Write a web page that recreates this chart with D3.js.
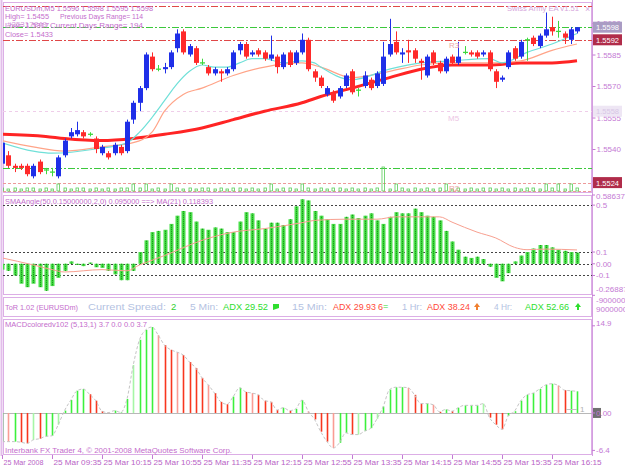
<!DOCTYPE html>
<html><head><meta charset="utf-8">
<script src="https://cdn.jsdelivr.net/npm/d3@7/dist/d3.min.js"></script>
<style>
html,body{margin:0;padding:0;background:#fff;}
svg{display:block;font-family:"Liberation Sans",Arial,sans-serif;}
</style></head><body>
<svg id="chart" width="625" height="469"></svg>
<script>
// ---------------- DATA ----------------
const tickBars = [0,8,16,24,32,40,48,56,64,72,80,88];
const tickLabels = ["25 Mar 2008","25 Mar 09:35","25 Mar 10:15","25 Mar 10:55","25 Mar 11:35","25 Mar 12:15","25 Mar 12:55","25 Mar 13:35","25 Mar 14:15","25 Mar 14:55","25 Mar 15:35","25 Mar 16:15"];

const open = [1.5533,1.5537,1.5532,1.5532,1.5532,1.5527,1.5534,1.5530,1.5529,1.5527,
 1.5537,1.5546,1.5547,1.5548,1.5547,1.5545,1.5538,1.5538,1.5538,1.5541,
 1.5539,1.5554,1.5562,1.5569,1.5584,1.5578,1.5578,1.5579,1.5588,1.5596,
 1.5585,1.5588,1.5581,1.5579,1.5576,1.5577,1.5576,1.5578,1.5587,1.5590,
 1.5585,1.5587,1.5586,1.5583,1.5584,1.5579,1.5586,1.5581,1.5586,1.5592,
 1.5577,1.5574,1.5566,1.5567,1.5565,1.5570,1.5577,1.5568,1.5570,1.5573,
 1.5570,1.5571,1.5585,1.5591,1.5585,1.5587,1.5587,1.5582,1.5575,1.5586,
 1.5581,1.5577,1.5584,1.5581,1.5586,1.5586,1.5586,1.5585,1.5586,1.5577,
 1.5573,1.5579,1.5588,1.5584,1.5592,1.5593,1.5589,1.5594,1.5598,1.5596,
 1.5595,1.5592,1.5596];
const high = [1.5545,1.5539,1.5533,1.5533,1.5533,1.5533,1.5535,1.5531,1.5531,1.5537,
 1.5545,1.5550,1.5553,1.5549,1.5548,1.5546,1.5542,1.5539,1.5543,1.5542,
 1.5554,1.5563,1.5570,1.5586,1.5586,1.5580,1.5581,1.5587,1.5597,1.5597,
 1.5590,1.5589,1.5583,1.5580,1.5579,1.5578,1.5579,1.5587,1.5591,1.5591,
 1.5587,1.5588,1.5587,1.5594,1.5585,1.5586,1.5587,1.5587,1.5595,1.5593,
 1.5578,1.5575,1.5570,1.5568,1.5570,1.5576,1.5578,1.5569,1.5577,1.5574,
 1.5577,1.5591,1.5602,1.5596,1.5588,1.5592,1.5588,1.5583,1.5585,1.5587,
 1.5582,1.5584,1.5585,1.5591,1.5589,1.5587,1.5587,1.5587,1.5587,1.5578,
 1.5575,1.5587,1.5589,1.5592,1.5593,1.5594,1.5595,1.5605,1.5603,1.5601,
 1.5596,1.5598,1.5598];
const low = [1.5532,1.5531,1.5529,1.5530,1.5527,1.5526,1.5528,1.5528,1.5527,1.5526,
 1.5536,1.5545,1.5546,1.5545,1.5546,1.5538,1.5537,1.5535,1.5537,1.5537,
 1.5538,1.5552,1.5558,1.5568,1.5577,1.5577,1.5576,1.5578,1.5586,1.5585,
 1.5584,1.5580,1.5580,1.5575,1.5575,1.5572,1.5575,1.5577,1.5585,1.5583,
 1.5584,1.5584,1.5582,1.5582,1.5576,1.5578,1.5579,1.5580,1.5585,1.5577,
 1.5572,1.5569,1.5565,1.5562,1.5564,1.5569,1.5566,1.5565,1.5569,1.5568,
 1.5569,1.5570,1.5584,1.5585,1.5581,1.5581,1.5581,1.5573,1.5574,1.5580,
 1.5576,1.5576,1.5580,1.5580,1.5585,1.5584,1.5583,1.5584,1.5577,1.5569,
 1.5572,1.5578,1.5582,1.5583,1.5582,1.5589,1.5588,1.5593,1.5594,1.5593,
 1.5590,1.5590,1.5595];
const close = [1.5543,1.5532,1.5531,1.5531,1.5528,1.5532,1.5529,1.5530,1.5529,1.5536,
 1.5544,1.5548,1.5549,1.5546,1.5547,1.5540,1.5541,1.5536,1.5542,1.5538,
 1.5553,1.5562,1.5569,1.5585,1.5578,1.5578,1.5579,1.5586,1.5595,1.5586,
 1.5589,1.5581,1.5581,1.5576,1.5578,1.5576,1.5578,1.5586,1.5590,1.5584,
 1.5586,1.5585,1.5583,1.5585,1.5579,1.5585,1.5580,1.5586,1.5592,1.5578,
 1.5574,1.5570,1.5569,1.5563,1.5569,1.5575,1.5567,1.5568,1.5575,1.5569,
 1.5576,1.5584,1.5590,1.5586,1.5586,1.5586,1.5583,1.5581,1.5584,1.5581,
 1.5577,1.5583,1.5581,1.5584,1.5586,1.5585,1.5584,1.5586,1.5578,1.5572,
 1.5574,1.5586,1.5583,1.5591,1.5592,1.5590,1.5594,1.5597,1.5596,1.5596,
 1.5593,1.5597,1.5598];

// small strip of tick-volume marks at the bottom of the price window
const volMarks = [3,2,3,2,3,3,2,3,2,7,3,2,3,3,2,3,2,3,2,3,3,7,3,7,2,3,2,7,3,2,
 3,2,3,3,2,3,2,3,3,2,3,2,3,7,2,3,3,2,7,3,2,3,2,3,3,2,3,2,3,2,3,24,2,7,3,2,
 3,2,3,2,3,7,2,3,2,3,2,3,3,2,3,2,3,2,3,3,2,7,3,7,2,7,3];

// moving averages (bar index, value)
const maFastBars = [0,5,8,15,20,22,24,26,28,30,32,34,36,38,40,42,45,48,50,51,56,62,67,72,78,80,84,88,92];
const maFast = [1.5543,1.5539,1.5538,1.5540,1.5543,1.5548,1.5555,1.5563,1.5571,1.5577,1.5580,1.5579,1.5579,1.5581,1.5583,1.5583,1.5581,1.5582,1.5581,1.5579,1.5573,1.5578,1.5581,1.5582,1.5583,1.5581,1.5586,1.5590,1.5595];
const maMidBars = [0,5,10,16,21,24,26,29,32,37,42,48,51,56,62,67,72,78,83,88,92];
const maMid = [1.5544,1.5541,1.5539,1.5541,1.5543,1.5548,1.5558,1.5566,1.5569,1.5575,1.5579,1.5581,1.5579,1.5574,1.5577,1.5580,1.5581,1.5581,1.5582,1.5587,1.5590];
const maSlowBars = [0,7,10,16,21,26,32,37,42,48,51,56,62,67,72,78,83,88,92];
const maSlow = [1.5547,1.5546,1.5545,1.5544,1.5545,1.5547,1.5550,1.5554,1.5558,1.5562,1.5565,1.5569,1.5574,1.5578,1.5580,1.5580,1.5581,1.5581,1.5582];

const priceTicks = [1.5600,1.5585,1.5570,1.5555,1.5540,1.5525];
const levelValues = [1.5608,1.5598,1.5592,1.5558,1.5531,1.5524,1.5520];

// SMAAngle histogram and its MA(21)
const smaAngle = [-0.05,-0.06,-0.10,-0.17,-0.20,-0.17,-0.20,-0.23,-0.19,-0.12,
 -0.06,0.02,-0.01,-0.02,0.01,-0.03,-0.035,-0.06,-0.09,-0.14,
 -0.14,-0.06,0.10,0.20,0.27,0.28,0.29,0.34,0.41,0.45,
 0.44,0.36,0.30,0.29,0.31,0.30,0.27,0.27,0.36,0.44,
 0.43,0.37,0.30,0.35,0.35,0.33,0.38,0.49,0.55,0.54,
 0.45,0.41,0.38,0.34,0.34,0.40,0.42,0.39,0.41,0.43,
 0.37,0.34,0.40,0.44,0.43,0.43,0.47,0.44,0.41,0.40,
 0.37,0.28,0.19,0.12,0.06,0.05,0.06,0.04,-0.025,-0.12,
 -0.15,-0.08,0.02,0.07,0.10,0.13,0.16,0.16,0.14,0.12,
 0.11,0.10,0.095];
const angleMaBars = [0,5,8,10,16,20,22,24,26,32,37,42,48,50,55,60,63,70,72,76,79,82,84,87,92];
const angleMa = [0.05,-0.01,-0.05,-0.07,-0.05,-0.06,-0.01,0.03,0.07,0.20,0.27,0.30,0.35,0.37,0.38,0.38,0.40,0.40,0.355,0.27,0.22,0.14,0.12,0.125,0.118];
const angleLevels = [0.5,0.1,0.0,-0.1];
const angleLabels = ["0.586379","0.5","0.1","0.00","-0.1","-0.26887"];
const angleLabelValues = [0.586379,0.5,0.1,0.0,-0.1,-0.26887];

// MACD coloured histogram (5,13,1)
const macd = [-4.9,-4.9,-4.9,-5.0,-5.2,-4.6,-4.4,-4.0,-3.9,-2.0,
 0.4,2.2,3.8,4.1,3.2,2.1,0.3,0.05,0.4,0.1,
 2.4,8.2,12.5,14.2,14.7,13.3,11.6,10.8,10.4,9.9,
 8.7,7.7,6.0,4.8,3.4,1.9,1.5,2.8,4.3,3.6,
 3.4,3.1,2.1,1.9,0.5,0.9,0.4,0.7,2.2,0.3,
 -1.1,-3.2,-4.9,-6.0,-5.1,-3.4,-3.7,-3.7,-3.1,-2.6,
 -1.0,1.1,4.0,4.4,4.4,4.3,3.1,1.6,1.6,1.4,
 0.2,0.6,0.3,0.9,1.3,1.3,1.3,1.6,-0.8,-2.0,
 -2.8,-0.5,0.3,2.1,3.1,3.4,4.1,4.8,5.0,4.7,
 3.9,3.8,3.7];
const macdColour = ("gRgrrGrggG"+"ggggrrrrgg"+"gGgggRrrRr"+"rrrRrrrggr"+"RrrrrgrggR"+
 "rrrRggrGgg"+"GggggRrrgR"+"rgrggggGrr"+"rggggggggR"+"rgg").split("");

// ---------------- LAYOUT ----------------
const svg = d3.select('#chart');
const PL = 3, PR = 592;
const panels = {main:[2,193], sma:[195,295], tor:[297,317], macd:[319,455]};
const frameCol = '#dcaee6';
const txtCol = '#c46ccc';
const axCol = '#c47ad4';
const F = 'font-size';

const x = d3.scaleLinear().domain([0,92]).range([2,577]);
const yP = d3.scaleLinear().domain([1.5525,1.5600]).range([180.5,23]);
const yA = d3.scaleLinear().domain([-0.26887,0.586379]).range([295.3,195]);
const yM = d3.scaleLinear().domain([-6.4,14.9]).range([450.4,325.8]);

const defs = svg.append('defs');
Object.entries(panels).forEach(([k,[t,b]])=>{
  defs.append('clipPath').attr('id','clip-'+k).append('rect')
   .attr('x',PL).attr('y',t).attr('width',PR-PL).attr('height',b-t);
});

svg.append('rect').attr('width',625).attr('height',469).attr('fill','#fff');

// frames
Object.values(panels).forEach(([t,b])=>{
  svg.append('rect').attr('x',PL+0.5).attr('y',t+0.5).attr('width',PR-PL-1).attr('height',b-t-1)
   .attr('fill','none').attr('stroke',frameCol);
});
svg.append('line').attr('x1',1.5).attr('x2',1.5).attr('y1',0).attr('y2',456).attr('stroke','#e2bdea').attr('stroke-width',2);
svg.append('line').attr('x1',PR+0.5).attr('x2',PR+0.5).attr('y1',0).attr('y2',456).attr('stroke','#d49ee0');

function txt(g,s,xx,yy,col,size,len,anchor){
  const t = g.append('text').attr('x',xx).attr('y',yy).attr('fill',col).attr(F,size).text(s);
  if(len) t.attr('textLength',len).attr('lengthAdjust','spacingAndGlyphs');
  if(anchor) t.attr('text-anchor',anchor);
  return t;
}

// ---------------- MAIN PANEL ----------------
const gMain = svg.append('g').attr('clip-path','url(#clip-main)');
const levelStyle = [
  {c:'#e04848',d:'7,2,2,2'},{c:'#3cc83c',d:'7,2,2,2'},{c:'#e04848',d:'7,2,2,2'},
  {c:'#efcde9',d:'3,3'},{c:'#3cc83c',d:'7,2,2,2'},{c:'#ee9a9a',d:'3,2'},{c:'#ee9a9a',d:'3,2'}];
gMain.selectAll('line.lvl').data(levelValues).join('line').attr('class','lvl')
  .attr('x1',PL).attr('x2',PR).attr('y1',d=>Math.round(yP(d))+0.5).attr('y2',d=>Math.round(yP(d))+0.5)
  .attr('stroke',(d,i)=>levelStyle[i].c).attr('stroke-dasharray',(d,i)=>levelStyle[i].d);

// volume marks
gMain.selectAll('rect.vol').data(volMarks).join('rect').attr('class','vol')
  .attr('x',(d,i)=>Math.round(x(i))-1).attr('y',d=>191-d).attr('width',2.5).attr('height',d=>d)
  .attr('fill','none').attr('stroke','#58cc58').attr('stroke-width',0.8);

// moving averages
const lineMA = (bs)=>d3.line().x((d,i)=>x(bs[i])).y(d=>yP(d)).curve(d3.curveMonotoneX);
gMain.append('path').datum(maSlow).attr('d',lineMA(maSlowBars)).attr('fill','none').attr('stroke','#ff2424').attr('stroke-width',3);
gMain.append('path').datum(maMid).attr('d',lineMA(maMidBars)).attr('fill','none').attr('stroke','#ffa488').attr('stroke-width',1.2);
gMain.append('path').datum(maFast).attr('d',lineMA(maFastBars)).attr('fill','none').attr('stroke','#70e0d8').attr('stroke-width',1.2);

// candles
const bull='#1f2fe8', bear='#ff2a2a', dojiC='#3ed83e';
const bars = d3.range(open.length);
const cc = i => close[i]>open[i]?bull:(close[i]<open[i]?bear:dojiC);
const cxp = i => Math.round(x(i))+0.5;
gMain.selectAll('line.wick').data(bars).join('line').attr('class','wick')
  .attr('x1',cxp).attr('x2',cxp).attr('y1',i=>yP(high[i])).attr('y2',i=>yP(low[i]))
  .attr('stroke',cc);
gMain.selectAll('rect.body').data(bars.filter(i=>open[i]!==close[i])).join('rect').attr('class','body')
  .attr('x',i=>cxp(i)-2.5).attr('width',5)
  .attr('y',i=>yP(Math.max(open[i],close[i])))
  .attr('height',i=>Math.max(1,yP(Math.min(open[i],close[i]))-yP(Math.max(open[i],close[i]))))
  .attr('fill',cc);
gMain.selectAll('line.doji').data(bars.filter(i=>open[i]===close[i])).join('line').attr('class','doji')
  .attr('x1',i=>cxp(i)-2.5).attr('x2',i=>cxp(i)+2.5).attr('y1',i=>yP(close[i])).attr('y2',i=>yP(close[i]))
  .attr('stroke',dojiC).attr('stroke-width',1.3);

// pivot labels
txt(gMain,'R3',449,48,'#eea6a6',8);
txt(gMain,'M5',448,121,'#ecc6e4',8);
txt(gMain,'R2',449,191,'#eea6a6',8);

// info texts
txt(svg,'EURUSDm,M5  1.5596 1.5598 1.5595 1.5598',5,10.5,txtCol,8,148);
txt(svg,'High= 1.5455',5,18.6,txtCol,8,44);
txt(svg,'Previous Days Range= 114',60,18.6,txtCol,8,83);
txt(svg,'Low= 1.5317',5,27.9,txtCol,8,44);
txt(svg,'#25317849',7,27.4,txtCol,8,40).attr('opacity',0.7);
txt(svg,'Current Days Range= 194',50,27.9,txtCol,8,93);
txt(svg,'Close= 1.5433',5,36.9,txtCol,8,48);
txt(svg,'Swiss Army EA v1.51',507,11.2,'#d6a6dc',8,72);
txt(svg,'×',585,11.5,'#d6a6dc',9);

// price axis
const gAx = svg.append('g').attr('transform',`translate(${PR+0.5},0)`);
gAx.call(d3.axisRight(yP).tickValues(priceTicks).tickFormat(d3.format('.4f')).tickSize(3));
gAx.select('.domain').remove();
gAx.selectAll('line').attr('stroke',axCol);
gAx.selectAll('text').attr('fill',axCol).attr(F,8).attr('font-family','"Liberation Sans",Arial,sans-serif').attr('x',4);

const boxes = [{v:1.5558,bg:'#eee6f4',fg:'#d8c6e6'},{v:1.5598,bg:'#aa9cc4',fg:'#ffffff'},{v:1.5592,bg:'#b02c4a',fg:'#ffffff'},{v:1.5524,bg:'#b02c4a',fg:'#ffffff'}];
boxes.forEach(b=>{
  const yy = yP(b.v);
  svg.append('rect').attr('x',593).attr('y',yy-5.5).attr('width',29).attr('height',11).attr('fill',b.bg);
  txt(svg,b.v.toFixed(4),596,yy+3,b.fg,8,23);
});

// ---------------- SMA ANGLE PANEL ----------------
const gS = svg.append('g').attr('clip-path','url(#clip-sma)');
gS.selectAll('line.alv').data(angleLevels).join('line').attr('class','alv')
  .attr('x1',PL).attr('x2',PR).attr('y1',d=>Math.round(yA(d))+0.5).attr('y2',d=>Math.round(yA(d))+0.5)
  .attr('stroke','#444').attr('stroke-dasharray','2,2');
gS.selectAll('rect.ab').data(smaAngle).join('rect').attr('class','ab')
  .attr('x',(d,i)=>cxp(i)-2).attr('width',4)
  .attr('y',d=>Math.min(yA(d),yA(0))).attr('height',d=>Math.abs(yA(d)-yA(0)))
  .attr('fill','#48de48');
gS.selectAll('line.abc').data(smaAngle).join('line').attr('class','abc')
  .attr('x1',(d,i)=>cxp(i)).attr('x2',(d,i)=>cxp(i)).attr('y1',yA(0)).attr('y2',d=>yA(d))
  .attr('stroke','#0c8a0c').attr('stroke-dasharray','1,1');
gS.append('path').datum(angleMa)
  .attr('d',d3.line().x((d,i)=>x(angleMaBars[i])).y(d=>yA(d)).curve(d3.curveMonotoneX))
  .attr('fill','none').attr('stroke','#f8a090').attr('stroke-width',1);
txt(svg,'SMAAngle(50,0.15000000,2,0) 0.095000  ==> MA(21) 0.118393',5,203.6,txtCol,8,208);
angleLabelValues.forEach((v,i)=>{
  const yy = i===0?199:(i===5?292:yA(v)+3);
  txt(svg,angleLabels[i],596,yy,axCol,8);
  svg.append('line').attr('x1',PR).attr('x2',PR+3).attr('y1',yA(v)).attr('y2',yA(v)).attr('stroke',axCol);
});

// ---------------- ToR PANEL ----------------
const tY = 310;
const lblBlue = '#b4c2e2';
txt(svg,'ToR 1.02 (EURUSDm)',5,tY,txtCol,8,73);
txt(svg,'Current Spread:',88,tY,lblBlue,9.5,78);
txt(svg,'2',171,tY,'#30d030',9.5);
txt(svg,'5 Min:',190,tY,lblBlue,9.5,28);
txt(svg,'ADX 29.52',223,tY,'#2ede2e',9.5,45);
txt(svg,'15 Min:',292,tY,lblBlue,9.5,35);
txt(svg,'ADX 29.93',333,tY,'#ff4a3a',9.5,43);
txt(svg,'1 Hr:',402,tY,lblBlue,9.5,20);
txt(svg,'ADX 38.24',427,tY,'#ff4a3a',9.5,43);
txt(svg,'4 Hr:',494,tY,lblBlue,9.5,18);
txt(svg,'ADX 52.66',525,tY,'#2ede2e',9.5,44);
// trend glyphs
const arrowUp = (cx,col)=>svg.append('path').attr('d',`M${cx-3},${tY-3} L${cx},${tY-7} L${cx+3},${tY-3} L${cx+1},${tY-3} L${cx+1},${tY} L${cx-1},${tY} L${cx-1},${tY-3} Z`).attr('fill',col);
svg.append('path').attr('d',`M273,${tY} L273,${tY-6} L279,${tY-6} L279,${tY-2} Z`).attr('fill','#2ede2e');
txt(svg,'6',378,tY,'#ff4a3a',9);
txt(svg,'=',383,tY-1,'#2ede2e',9);
arrowUp(477,'#f08030');
arrowUp(578,'#2ede2e');
txt(svg,'-9000000',596,303,axCol,8);
txt(svg,'9000000',596,312,axCol,8);

// ---------------- MACD PANEL ----------------
const gM = svg.append('g').attr('clip-path','url(#clip-macd)');
gM.append('line').attr('x1',PL).attr('x2',PR).attr('y1',Math.round(yM(0))+0.5).attr('y2',Math.round(yM(0))+0.5)
  .attr('stroke','#b8b8b8');
const mcol = {g:'#3cf03c',G:'#a6f6a6',r:'#f8361e',R:'#fa9c94'};
gM.selectAll('line.mb').data(macd).join('line').attr('class','mb')
  .attr('x1',(d,i)=>cxp(i)).attr('x2',(d,i)=>cxp(i)).attr('y1',yM(0)).attr('y2',d=>yM(d))
  .attr('stroke',(d,i)=>mcol[macdColour[i]]).attr('stroke-width',1.6);
gM.append('path').datum(macd)
  .attr('d',d3.line().x((d,i)=>x(i)).y(d=>yM(d)).curve(d3.curveMonotoneX))
  .attr('fill','none').attr('stroke','#c4c4c4').attr('stroke-dasharray','3,2');
gM.append('line').attr('x1',566).attr('x2',577).attr('y1',409.5).attr('y2',409.5).attr('stroke','#c4c4c4');
txt(gM,'1',580,412,'#b0b0b0',8);
txt(svg,'MACDcoloredv102 (5,13,1) 3.7 0.0 0.0 3.7',5,327,txtCol,8,142);
txt(svg,'14.9',596,326,axCol,8);
svg.append('rect').attr('x',593).attr('y',yM(0)-5).attr('width',8).attr('height',10).attr('fill','#707070');
txt(svg,'0.00',596,yM(0)+3,axCol,8);
txt(svg,'-6.4',596,yM(-6.4)+3,axCol,8);
[14.9,0,-6.4].forEach(v=>svg.append('line').attr('x1',PR).attr('x2',PR+3).attr('y1',yM(v)).attr('y2',yM(v)).attr('stroke',axCol));
txt(svg,'Interbank FX Trader 4, © 2001-2008 MetaQuotes Software Corp.',5,453,txtCol,8,227);

// ---------------- TIME AXIS ----------------
const gT = svg.append('g');
tickBars.forEach((b,i)=>{
  const xx = Math.round(x(b))+0.5;
  gT.append('line').attr('x1',xx).attr('x2',xx).attr('y1',455).attr('y2',459).attr('stroke',axCol);
  txt(gT,tickLabels[i],xx+1,465,'#b862c6',8,i===0?40:48);
});
</script></body></html>
